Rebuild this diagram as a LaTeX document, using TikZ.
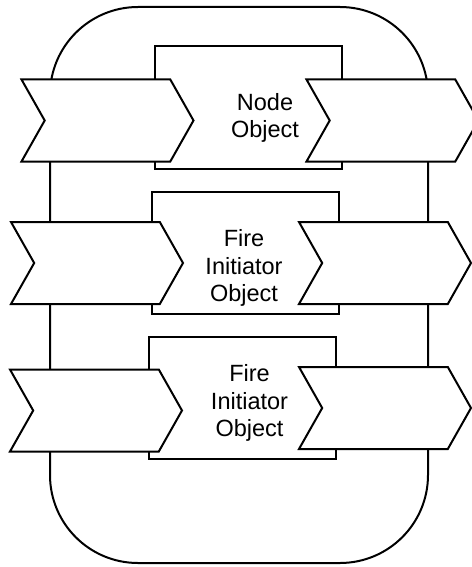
\documentclass[tikz,border=0pt]{standalone}
\usepackage{fontspec}
\setmainfont{Liberation Sans}
\usetikzlibrary{shapes}
\usetikzlibrary{shapes.symbols}
\tikzset{
	shapenode/.style = {
		draw=black,
		fill=white,
		line width=2pt,
		inner sep=0pt
	},
	node_frame/.style = {
		shapenode,
		fill=none,
		rectangle,
		rounded corners=88pt,
		minimum width=378pt,
		minimum height=556pt
	},
	node_obj/.style = {
		shapenode,
		rectangle,
		minimum width=187pt,
		minimum height=122pt
	},
	node_chev/.style = {
		shapenode,
		signal,
		signal to=east,
		signal from=west,
		signal pointer angle=121,
		minimum width=172pt,
		minimum height=82pt
	},
	node_label/.style = {
		align=center,
		inner sep=0pt,
		font=\fontsize{23.5}{27.5}\selectfont
	},
}
\begin{document}
\begin{tikzpicture}[x=1pt,y=-1pt]
\useasboundingbox (0,0) rectangle (471,567);
\node [node_frame] (frame) at (239,285) {};
% object boxes
\node [node_obj] (obj1) at (248,107.5) {};
\node [node_obj] (obj2) at (245.5,253) {};
\node [node_obj] (obj3) at (242.5,397.5) {};
% in and out chevrons
\node [node_chev] (in1) at (107.5,120.5) {};
\node [node_chev] (out1) at (392.5,120.5) {};
\node [node_chev] (in2) at (97,263) {};
\node [node_chev] (out2) at (385,263) {};
\node [node_chev] (in3) at (96,410.5) {};
\node [node_chev] (out3) at (385,408) {};
% texts
\node [node_label] (t1) at (265,118) {Node\\Object};
\node [node_label] (t2) at (244,268) {Fire\\Initiator\\Object};
\node [node_label] (t3) at (249.5,403) {Fire\\Initiator\\Object};
\end{tikzpicture}
\end{document}
